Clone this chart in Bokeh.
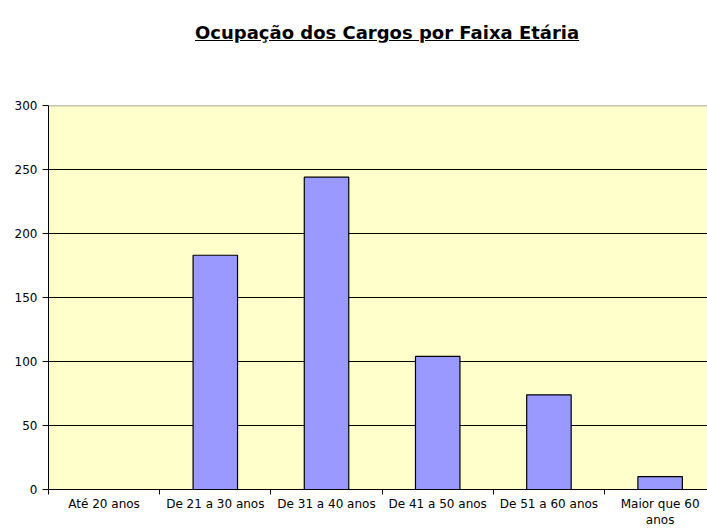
from bokeh.plotting import figure
from bokeh.models import Range1d, FixedTicker, Div, Span
from bokeh.layouts import column
from bokeh.embed import file_html
from bokeh.resources import INLINE

title_text = "Ocupação dos Cargos por Faixa Etária"
categories = ["Até 20 anos", "De 21 a 30 anos", "De 31 a 40 anos",
              "De 41 a 50 anos", "De 51 a 60 anos", "Maior que 60\nanos"]
values = [0, 183, 244, 104, 74, 10]
y_ticks = [0, 50, 100, 150, 200, 250, 300]

centers = [i + 0.5 for i in range(len(categories))]
bounds = list(range(len(categories) + 1))

FONT = "DejaVu Sans"

title = Div(
    text=('<div style="position:relative;left:195px;top:0px;padding-top:23px;'
          'font-family:\'DejaVu Sans\';font-weight:bold;font-size:18px;white-space:nowrap;'
          'text-decoration:underline;color:black;line-height:20px;">'
          + title_text + '</div>'),
    width=707, height=42, margin=(0, 0, 0, 0))

p = figure(width=707, height=487, output_backend="svg", toolbar_location=None,
           x_range=Range1d(0, 5.926), y_range=Range1d(0, 300),
           min_border_top=63, min_border_left=48, min_border_right=0,
           min_border_bottom=40, margin=(0, 0, 0, 0))

p.background_fill_color = "#FFFFCC"
p.border_fill_color = "white"
p.outline_line_color = None

p.add_layout(Span(location=y_ticks[-1], dimension="width",
                  line_color="#8C8C8C", line_width=1.5))

p.vbar(x=centers, top=values, bottom=0, width=0.4,
       fill_color="#9999FF", line_color="black", line_width=1.2)

p.xgrid.visible = False
p.ygrid.ticker = FixedTicker(ticks=y_ticks[1:-1])
p.ygrid.grid_line_color = "black"
p.ygrid.grid_line_width = 1

ya = p.yaxis[0]
ya.ticker = FixedTicker(ticks=y_ticks)
ya.axis_line_color = "black"
ya.major_tick_line_color = "black"
ya.major_tick_out = 6
ya.major_tick_in = 0
ya.minor_tick_line_color = None
ya.major_label_text_font = FONT
ya.major_label_text_font_size = "12px"
ya.major_label_text_color = "black"
ya.major_label_standoff = 5

xa = p.xaxis[0]
xa.ticker = FixedTicker(ticks=centers, minor_ticks=bounds)
xa.major_label_overrides = {c: lab for c, lab in zip(centers, categories)}
xa.axis_line_color = "black"
xa.major_tick_line_color = None
xa.major_tick_out = 0
xa.major_tick_in = 0
xa.minor_tick_line_color = "black"
xa.minor_tick_out = 5
xa.minor_tick_in = 0
xa.major_label_text_font = FONT
xa.major_label_text_font_size = "12px"
xa.major_label_text_color = "black"
xa.major_label_text_line_height = 1.15
xa.major_label_standoff = 2
xa.axis_label_standoff = 0

layout = column(title, p, spacing=0)

open("out.html", "w").write(file_html(layout, INLINE))
